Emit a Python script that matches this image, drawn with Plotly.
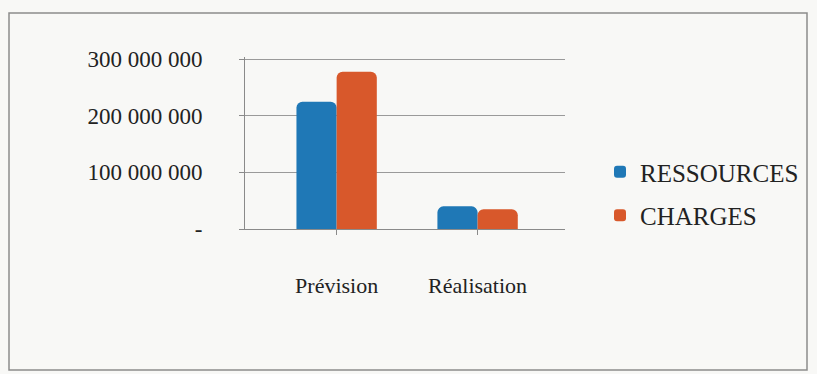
import plotly.graph_objects as go

categories = ["Prévision", "Réalisation"]
series_names = ["RESSOURCES", "CHARGES"]
ressources = [225_000_000, 40_000_000]
charges = [278_000_000, 35_000_000]
tick_vals = [0, 100_000_000, 200_000_000, 300_000_000]
tick_text = ["-", "100 000 000", "200 000 000", "300 000 000"]
colors = ["#1f78b6", "#d8582b"]

W, H = 817, 374
L, R, T, B = 245, 252, 57, 145
pw, ph = W - L - R, H - T - B

def px_x(x):
    return (x - L) / pw

def px_y(y):
    return (H - B - y) / ph

FONT = "Liberation Serif"

fig = go.Figure()
for name, vals, col in zip(series_names, [ressources, charges], colors):
    fig.add_trace(go.Bar(
        x=categories, y=vals, name=name, legendgroup=name,
        marker=dict(color=col, line=dict(width=0), cornerradius=6),
    ))

fig.update_layout(
    width=W, height=H,
    margin=dict(l=L, r=R, t=T, b=B),
    paper_bgcolor="#f8f8f6", plot_bgcolor="#f8f8f6",
    barmode="group", bargap=0.43, bargroupgap=0.0,
    font=dict(family=FONT, size=22, color="#222"),
    showlegend=True,
    legend=dict(
        x=px_x(600), y=px_y(149), xanchor="left", yanchor="top",
        font=dict(family=FONT, size=25, color="#222"),
        bgcolor="rgba(0,0,0,0)", traceorder="grouped", tracegroupgap=8,
        itemwidth=30,
    ),
    xaxis=dict(
        range=[-0.65, 1.62], showgrid=False, showline=True,
        linecolor="#8a8a8a", linewidth=1, ticks="outside", ticklen=5,
        tickcolor="#8a8a8a", ticklabelstandoff=32,
        tickfont=dict(family=FONT, size=22, color="#222"),
        zeroline=False,
    ),
    yaxis=dict(
        range=[0, 304_000_000], tickvals=tick_vals, ticktext=tick_text,
        showgrid=True, gridcolor="#9a9a9a", gridwidth=1,
        showline=True, linecolor="#8a8a8a", linewidth=1,
        ticks="outside", ticklen=5, tickcolor="#8a8a8a",
        ticklabelstandoff=32, zeroline=False,
        tickfont=dict(family=FONT, size=23, color="#222"),
    ),
    shapes=[dict(
        type="rect", xref="paper", yref="paper",
        x0=px_x(9), x1=px_x(807), y0=px_y(370), y1=px_y(13),
        line=dict(color="#8c8c8c", width=1.5), fillcolor="rgba(0,0,0,0)",
        layer="below",
    )],
)

fig.write_html("out.html")
